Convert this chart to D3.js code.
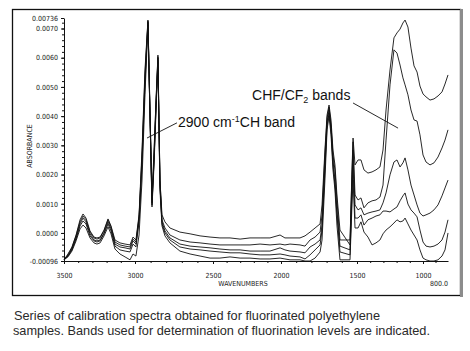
<!DOCTYPE html>
<html>
<head>
<meta charset="utf-8">
<script src="https://cdn.jsdelivr.net/npm/d3@7"></script>
<style>
  body { margin: 0; background: #fff; }
  svg { display: block; }
  .tick text, .axis-title { font-family: "DejaVu Sans Condensed", "Liberation Sans Narrow", sans-serif; }
</style>
</head>
<body>
<svg id="chart"></svg>
<script>
// wavenumbers (cm-1) shared by all spectra
const wavenumbers = [3500, 3472, 3444, 3415, 3387, 3366, 3345, 3317, 3289, 3268,
    3246, 3218, 3190, 3169, 3141, 3106, 3070, 3035, 3014, 2994,
    2974, 2955, 2936, 2917, 2904, 2891, 2878, 2865, 2853, 2840,
    2827, 2808, 2776, 2712, 2647, 2583, 2519, 2449, 2375, 2301,
    2228, 2154, 2081, 2007, 1974, 1941, 1875, 1842, 1809, 1776,
    1743, 1730, 1711, 1697, 1684, 1671, 1658, 1645, 1632, 1612,
    1546, 1533, 1526, 1513, 1492, 1470, 1447, 1417, 1386, 1356,
    1326, 1303, 1280, 1250, 1220, 1197, 1174, 1152, 1136, 1114,
    1091, 1068, 1045, 1023, 1000, 976, 944, 912, 880, 848, 824, 800]

// absorbance, one array per calibration sample
const spectrumA = [-0.00092, -0.00072, -0.00048, -0.00007, 0.00045, 0.00065, 0.00051, 0.00007, -0.00014, -0.00017,
    -0.00014, 0.00010, 0.00048, 0.00024, -0.00024, -0.00034, -0.00038, -0.00041, -0.00014, -0.00024,
    0.00062, 0.00284, 0.00558, 0.00729, 0.00421, 0.00123, 0.00284, 0.00455, 0.00609, 0.00181,
    0.00062, 0.00038, 0.00017, 0.00003, -0.00003, -0.00010, -0.00014, -0.00017, -0.00017, -0.00021,
    -0.00017, -0.00017, -0.00017, -0.00007, -0.00017, -0.00017, -0.00017, -0.00010, 0.00003, 0.00017,
    0.00031, 0.00096, 0.00284, 0.00404, 0.00438, 0.00387, 0.00284, 0.00233, 0.00130, 0.00010,
    -0.00041, 0.00216, 0.00325, 0.00233, 0.00250, 0.00250, 0.00216, 0.00205, 0.00209, 0.00216,
    0.00226, 0.00284, 0.00421, 0.00558, 0.00668, 0.00685, 0.00698, 0.00719, 0.00729, 0.00705,
    0.00633, 0.00572, 0.00551, 0.00503, 0.00476, 0.00466, 0.00455, 0.00459, 0.00469, 0.00483, 0.00510, 0.00541]

const spectrumB = [-0.00092, -0.00075, -0.00051, -0.00010, 0.00038, 0.00058, 0.00045, 0.00003, -0.00017, -0.00021,
    -0.00017, 0.00007, 0.00045, 0.00021, -0.00031, -0.00041, -0.00045, -0.00048, -0.00021, -0.00031,
    0.00055, 0.00267, 0.00541, 0.00726, 0.00421, 0.00113, 0.00267, 0.00455, 0.00603, 0.00181,
    0.00045, 0.00017, -0.00007, -0.00024, -0.00031, -0.00034, -0.00038, -0.00041, -0.00041, -0.00041,
    -0.00041, -0.00038, -0.00041, -0.00038, -0.00041, -0.00038, -0.00041, -0.00045, -0.00024, -0.00014,
    0.00003, 0.00062, 0.00267, 0.00394, 0.00431, 0.00370, 0.00267, 0.00216, 0.00113, -0.00024,
    -0.00024, 0.00199, 0.00312, 0.00130, 0.00113, 0.00120, 0.00086, 0.00103, 0.00110, 0.00113,
    0.00123, 0.00164, 0.00318, 0.00507, 0.00627, 0.00616, 0.00575, 0.00531, 0.00507, 0.00473,
    0.00421, 0.00387, 0.00383, 0.00336, 0.00267, 0.00243, 0.00233, 0.00240, 0.00260, 0.00291, 0.00318, 0.00353]

const spectrumC = [-0.00092, -0.00079, -0.00055, -0.00017, 0.00031, 0.00051, 0.00038, -0.00003, -0.00024, -0.00027,
    -0.00024, 0.00000, 0.00038, 0.00014, -0.00038, -0.00048, -0.00051, -0.00055, -0.00027, -0.00038,
    0.00048, 0.00250, 0.00524, 0.00722, 0.00404, 0.00103, 0.00250, 0.00438, 0.00599, 0.00164,
    0.00038, 0.00007, -0.00017, -0.00038, -0.00045, -0.00048, -0.00051, -0.00055, -0.00058, -0.00058,
    -0.00062, -0.00062, -0.00062, -0.00051, -0.00058, -0.00062, -0.00065, -0.00068, -0.00048, -0.00038,
    -0.00024, 0.00027, 0.00233, 0.00380, 0.00421, 0.00360, 0.00250, 0.00181, 0.00079, -0.00045,
    -0.00058, 0.00164, 0.00284, 0.00096, 0.00079, 0.00086, 0.00062, 0.00068, 0.00072, 0.00075,
    0.00079, 0.00103, 0.00137, 0.00199, 0.00243, 0.00250, 0.00226, 0.00240, 0.00257, 0.00216,
    0.00164, 0.00130, 0.00096, 0.00068, 0.00058, 0.00062, 0.00068, 0.00079, 0.00096, 0.00127, 0.00154, 0.00181]

const spectrumD = [-0.00092, -0.00079, -0.00058, -0.00021, 0.00024, 0.00041, 0.00031, -0.00010, -0.00027, -0.00031,
    -0.00027, -0.00003, 0.00031, 0.00007, -0.00045, -0.00058, -0.00062, -0.00065, -0.00038, -0.00048,
    0.00038, 0.00233, 0.00507, 0.00719, 0.00404, 0.00096, 0.00250, 0.00438, 0.00592, 0.00164,
    0.00031, 0.00000, -0.00024, -0.00048, -0.00055, -0.00058, -0.00062, -0.00065, -0.00068, -0.00068,
    -0.00072, -0.00075, -0.00075, -0.00072, -0.00075, -0.00079, -0.00082, -0.00089, -0.00075, -0.00058,
    -0.00041, 0.00010, 0.00216, 0.00366, 0.00411, 0.00353, 0.00233, 0.00164, 0.00062, -0.00065,
    -0.00075, 0.00130, 0.00233, 0.00051, 0.00051, 0.00062, 0.00027, 0.00045, 0.00051, 0.00058,
    0.00062, 0.00075, 0.00075, 0.00072, 0.00082, 0.00089, 0.00110, 0.00127, 0.00137, 0.00099,
    0.00079, 0.00068, 0.00055, 0.00010, -0.00031, -0.00045, -0.00048, -0.00045, -0.00038, -0.00024, 0.00003, 0.00045]

const spectrumE = [-0.00092, -0.00082, -0.00062, -0.00027, 0.00014, 0.00027, 0.00017, -0.00017, -0.00034, -0.00038,
    -0.00034, -0.00010, 0.00021, -0.00003, -0.00055, -0.00072, -0.00082, -0.00092, -0.00072, -0.00079,
    -0.00007, 0.00181, 0.00473, 0.00712, 0.00404, 0.00089, 0.00233, 0.00421, 0.00586, 0.00147,
    0.00024, -0.00010, -0.00034, -0.00062, -0.00072, -0.00079, -0.00086, -0.00086, -0.00082, -0.00086,
    -0.00086, -0.00089, -0.00089, -0.00086, -0.00089, -0.00092, -0.00092, -0.00096, -0.00096, -0.00086,
    -0.00065, -0.00024, 0.00181, 0.00353, 0.00401, 0.00336, 0.00216, 0.00147, 0.00027, -0.00092,
    -0.00092, 0.00096, 0.00181, 0.00017, 0.00017, 0.00038, 0.00003, -0.00014, -0.00041, -0.00034,
    -0.00024, -0.00003, 0.00010, 0.00021, 0.00034, 0.00045, 0.00038, 0.00041, 0.00051, 0.00031,
    0.00010, -0.00007, -0.00024, -0.00058, -0.00086, -0.00092, -0.00096, -0.00096, -0.00092, -0.00079, -0.00058, 0.00000]

const xTicks = [3500, 3000, 2500, 2000, 1500, 1000]
const yTicks = [-0.00096, 0, 0.001, 0.002, 0.003, 0.004, 0.005, 0.006, 0.007, 0.00736]
const yTickLabels = ['-0.00096', '0.0000', '0.0010', '0.0020', '0.0030', '0.0040', '0.0050', '0.0060', '0.0070', '0.00736']

const width = 470
const height = 351
const svg = d3.select('#chart')
    .attr('width', width)
    .attr('height', height)

// the instrument plot stretches the wavenumber axis a little per segment
const x = d3.scaleLinear()
    .domain([3500, 3000, 2500, 2000, 1500, 1000, 800])
    .range([64, 135, 213, 281, 357, 423, 448])
const y = d3.scaleLinear()
    .domain([-0.00096, 0.00736])
    .range([261, 18])

// frame around the figure
svg.append('rect')
    .attr('x', 12.5).attr('y', 9.5)
    .attr('width', 448).attr('height', 286)
    .attr('fill', 'none')
    .attr('stroke', '#111')
    .attr('stroke-width', 1.3)
svg.append('line')
    .attr('x1', 461.5).attr('x2', 461.5)
    .attr('y1', 9).attr('y2', 297)
    .attr('stroke', '#8c8c8c')
    .attr('stroke-width', 3)

// x axis
svg.append('g')
    .attr('transform', `translate(0,${y.range()[0]})`)
    .call(d3.axisBottom(x).tickValues(xTicks).tickFormat(d3.format('d'))
        .tickSize(3).tickSizeOuter(0).tickPadding(9))
svg.append('g')
    .attr('transform', `translate(0,${y.range()[0]})`)
    .call(d3.axisBottom(x).tickValues(d3.range(3400, 800, -100)).tickFormat('').tickSize(2).tickSizeOuter(0))
    .select('.domain').remove()

// y axis
svg.append('g')
    .attr('transform', `translate(${x(3500)},0)`)
    .call(d3.axisLeft(y).tickValues(yTicks).tickFormat((d, i) => yTickLabels[i])
        .tickSize(3).tickSizeOuter(0).tickPadding(3))
svg.append('g')
    .attr('transform', `translate(${x(3500)},0)`)
    .call(d3.axisLeft(y).tickValues(d3.range(-0.0008, 0.0073, 0.0002)).tickFormat('').tickSize(2).tickSizeOuter(0))
    .select('.domain').remove()

svg.selectAll('.tick text')
    .attr('font-size', 7)
    .attr('fill', '#222')
svg.selectAll('.domain, .tick line')
    .attr('stroke', '#111')

svg.append('text')
    .attr('class', 'axis-title')
    .attr('x', x(800)).attr('y', 286)
    .attr('text-anchor', 'end')
    .attr('font-size', 7)
    .attr('fill', '#222')
    .text('800.0')

svg.append('text')
    .attr('class', 'axis-title')
    .attr('x', 243).attr('y', 286)
    .attr('text-anchor', 'middle')
    .attr('font-size', 7)
    .attr('fill', '#222')
    .text('WAVENUMBERS')

svg.append('text')
    .attr('class', 'axis-title')
    .attr('transform', 'translate(32,146) rotate(-90)')
    .attr('text-anchor', 'middle')
    .attr('font-size', 7)
    .attr('fill', '#222')
    .text('ABSORBANCE')

// spectra
const line = d3.line()
    .x((d, i) => x(wavenumbers[i]))
    .y(d => y(d))

svg.append('g')
    .selectAll('path')
    .data([spectrumA, spectrumB, spectrumC, spectrumD, spectrumE])
    .enter()
    .append('path')
    .attr('d', line)
    .attr('fill', 'none')
    .attr('stroke', '#111')
    .attr('stroke-width', 0.9)
    .attr('stroke-linejoin', 'round')

// band annotations
const note = svg.append('g')
    .attr('font-family', '"Liberation Sans", Arial, sans-serif')
    .attr('font-size', 14)
    .attr('fill', '#111')

note.append('line')
    .attr('x1', x(2731)).attr('y1', y(0.00377))
    .attr('x2', x(2923)).attr('y2', y(0.00325))
    .attr('stroke', '#111')
    .attr('stroke-width', 0.9)
const chText = note.append('text')
    .attr('x', x(2724)).attr('y', y(0.00363))
chText.append('tspan').text('2900 cm')
chText.append('tspan').attr('font-size', 9).attr('dy', -5).text('-1')
chText.append('tspan').attr('dy', 5).text('CH band')

note.append('line')
    .attr('x1', x(1526)).attr('y1', y(0.00445))
    .attr('x2', x(1189)).attr('y2', y(0.00359))
    .attr('stroke', '#111')
    .attr('stroke-width', 0.9)
const cfText = note.append('text')
    .attr('x', x(2213)).attr('y', y(0.00455))
cfText.append('tspan').text('CHF/CF')
cfText.append('tspan').attr('font-size', 9).attr('dy', 3).text('2')
cfText.append('tspan').attr('dy', -3).text(' bands')

// caption
const caption = svg.append('g')
    .attr('font-family', '"Liberation Sans Narrow", "Arial Narrow", "Liberation Sans", sans-serif')
    .attr('font-size', 13)
    .attr('fill', '#2a2a2a')
caption.append('text')
    .attr('x', 14).attr('y', 320)
    .attr('textLength', 366)
    .attr('lengthAdjust', 'spacingAndGlyphs')
    .text('Series of calibration spectra obtained for fluorinated polyethylene')
caption.append('text')
    .attr('x', 13).attr('y', 335)
    .attr('textLength', 417)
    .attr('lengthAdjust', 'spacingAndGlyphs')
    .text('samples. Bands used for determination of fluorination levels are indicated.')
</script>
</body>
</html>
